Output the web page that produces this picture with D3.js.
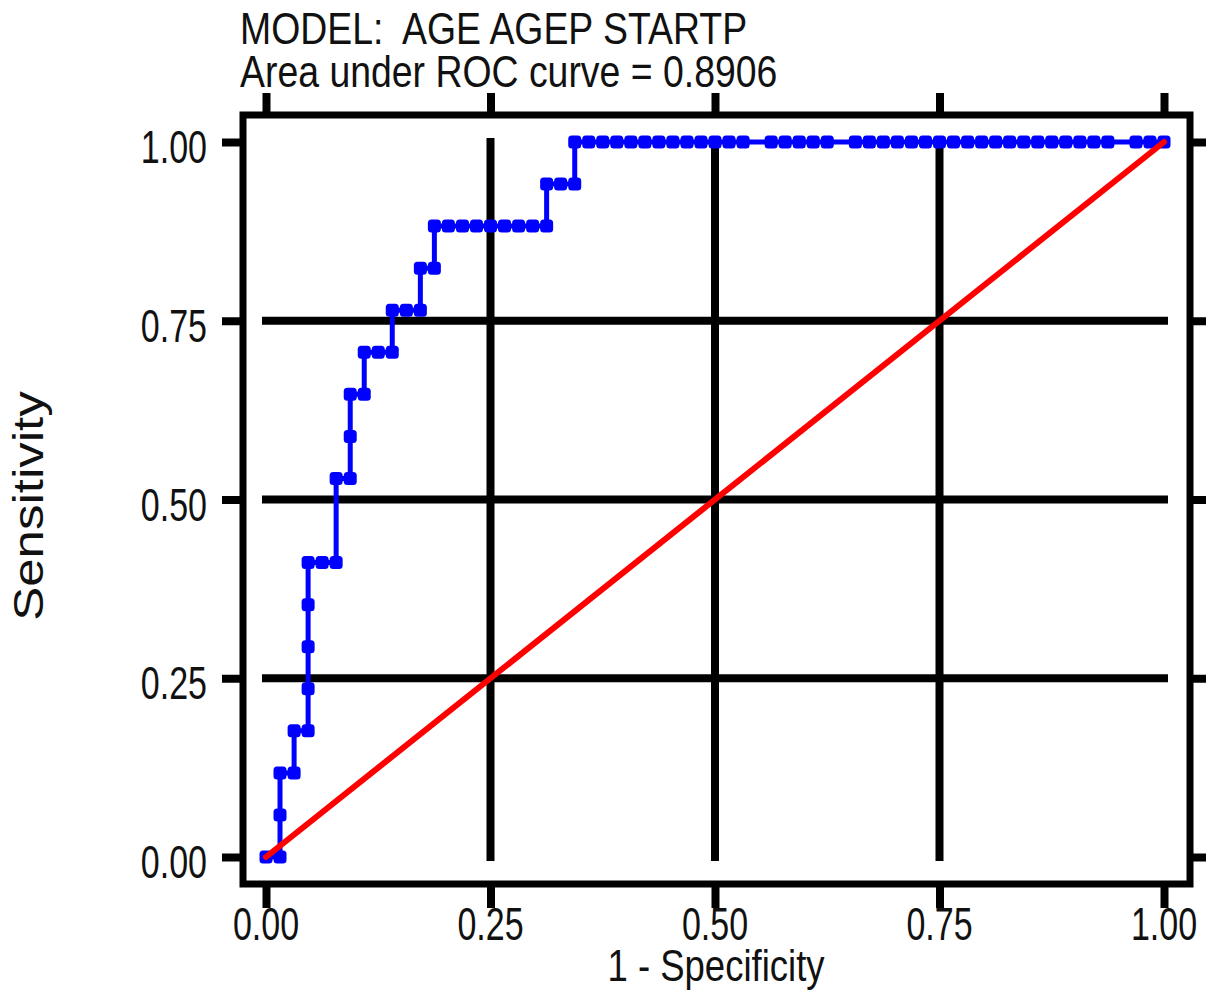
<!DOCTYPE html>
<html>
<head>
<meta charset="utf-8">
<script src="https://cdn.jsdelivr.net/npm/d3@7"></script>
<style>
  html, body { margin: 0; padding: 0; background: #fff; }
  svg { display: block; }
  text { font-family: "Liberation Sans", Arial, Helvetica, sans-serif; fill: #111; white-space: pre; }
</style>
</head>
<body>
<svg id="chart" width="1206" height="993"></svg>
<script>
// ---- Data ----
const titleLines = ["MODEL:  AGE AGEP STARTP", "Area under ROC curve = 0.8906"];
const xTitle = "1 - Specificity";
const yTitle = "Sensitivity";
const tickValues = [0, 0.25, 0.5, 0.75, 1];
const gridValues = [0.25, 0.5, 0.75];

// ROC curve points: 1 - specificity (x) and sensitivity (y)
const oneMinusSpec = [
  0, 0.0156, 0.0156, 0.0156, 0.0313, 0.0313, 0.0469, 0.0469, 0.0469, 0.0469,
  0.0469, 0.0625, 0.0781, 0.0781, 0.0938, 0.0938, 0.0938, 0.1094, 0.1094, 0.1250,
  0.1406, 0.1406, 0.1563, 0.1719, 0.1719, 0.1875, 0.1875, 0.2031, 0.2188, 0.2344,
  0.2500, 0.2656, 0.2813, 0.2969, 0.3125, 0.3125, 0.3281, 0.3438, 0.3438, 0.3594,
  0.3750, 0.3906, 0.4063, 0.4219, 0.4375, 0.4531, 0.4688, 0.4844, 0.5000, 0.5156,
  0.5313, 0.5625, 0.5781, 0.5938, 0.6094, 0.6250, 0.6563, 0.6719, 0.6875, 0.7031,
  0.7188, 0.7344, 0.7500, 0.7656, 0.7813, 0.7969, 0.8125, 0.8281, 0.8438, 0.8594,
  0.8750, 0.8906, 0.9063, 0.9219, 0.9375, 0.9688, 0.9844, 1.0000
];
const sensitivity = [
  0, 0, 0.0588, 0.1176, 0.1176, 0.1765, 0.1765, 0.2353, 0.2941, 0.3529,
  0.4118, 0.4118, 0.4118, 0.5294, 0.5294, 0.5882, 0.6471, 0.6471, 0.7059, 0.7059,
  0.7059, 0.7647, 0.7647, 0.7647, 0.8235, 0.8235, 0.8824, 0.8824, 0.8824, 0.8824,
  0.8824, 0.8824, 0.8824, 0.8824, 0.8824, 0.9412, 0.9412, 0.9412, 1, 1,
  1, 1, 1, 1, 1, 1, 1, 1, 1, 1,
  1, 1, 1, 1, 1, 1, 1, 1, 1, 1,
  1, 1, 1, 1, 1, 1, 1, 1, 1, 1,
  1, 1, 1, 1, 1, 1, 1, 1
];
// Reference (chance) line
const refX = [0, 1];
const refY = [0, 1];

// ---- Drawing ----
const svg = d3.select("#chart");
svg.append("rect").attr("width", 1206).attr("height", 993).attr("fill", "#fff");

const x = d3.scaleLinear().domain([0, 1]).range([266, 1164]);
const y = d3.scaleLinear().domain([0, 1]).range([857, 142]);

const frame = { left: 243, top: 115, right: 1190, bottom: 884 };

// Grid lines
svg.append("g").selectAll("line").data(gridValues).join("line")
  .attr("x1", x(0)).attr("x2", x(1))
  .attr("y1", d => y(d)).attr("y2", d => y(d))
  .attr("stroke", "#000").attr("stroke-width", 8).attr("stroke-linecap", "square");
svg.append("g").selectAll("line").data(gridValues).join("line")
  .attr("y1", y(1)).attr("y2", y(0))
  .attr("x1", d => x(d)).attr("x2", d => x(d))
  .attr("stroke", "#000").attr("stroke-width", 8).attr("stroke-linecap", "square");

// Tick marks on all four sides (axes)
function styleAxis(g) {
  g.select(".domain").remove();
  g.selectAll(".tick line").attr("stroke", "#000").attr("stroke-width", 8);
  g.selectAll(".tick text").remove();
}
svg.append("g").attr("transform", `translate(${frame.left - 3},0)`)
  .call(d3.axisLeft(y).tickValues(tickValues).tickSize(18)).call(styleAxis);
svg.append("g").attr("transform", `translate(${frame.right + 3},0)`)
  .call(d3.axisRight(y).tickValues(tickValues).tickSize(22)).call(styleAxis);
svg.append("g").attr("transform", `translate(0,${frame.top - 3})`)
  .call(d3.axisTop(x).tickValues(tickValues).tickSize(19)).call(styleAxis);
svg.append("g").attr("transform", `translate(0,${frame.bottom + 3})`)
  .call(d3.axisBottom(x).tickValues(tickValues).tickSize(21)).call(styleAxis);

// Frame
svg.append("rect")
  .attr("x", frame.left).attr("y", frame.top)
  .attr("width", frame.right - frame.left).attr("height", frame.bottom - frame.top)
  .attr("fill", "none").attr("stroke", "#000").attr("stroke-width", 7);

// Tick labels
const fmt = d3.format(".2f");
svg.append("g").selectAll("text").data(tickValues).join("text")
  .attr("transform", d => `translate(207,${y(d) + 21}) scale(0.74,1)`)
  .attr("text-anchor", "end").attr("font-size", 46).text(fmt);
svg.append("g").selectAll("text").data(tickValues).join("text")
  .attr("transform", d => `translate(${x(d)},940) scale(0.74,1)`)
  .attr("text-anchor", "middle").attr("font-size", 46).text(fmt);

// ROC curve
const pts = oneMinusSpec.map((v, i) => [v, sensitivity[i]]);
const line = d3.line().x(d => x(d[0])).y(d => y(d[1]));
svg.append("path").datum(pts).attr("d", line)
  .attr("fill", "none").attr("stroke", "#0000ff").attr("stroke-width", 5);
const ms = 13;
svg.append("g").selectAll("rect").data(pts).join("rect")
  .attr("x", d => x(d[0]) - ms / 2).attr("y", d => y(d[1]) - ms / 2)
  .attr("width", ms).attr("height", ms).attr("rx", 3.5)
  .attr("fill", "#0000ff");

// Chance line
svg.append("path").datum(refX.map((v, i) => [v, refY[i]])).attr("d", line)
  .attr("fill", "none").attr("stroke", "#ff0000").attr("stroke-width", 6)
  .attr("stroke-linecap", "round");

// Titles
svg.append("g").selectAll("text").data(titleLines).join("text")
  .attr("transform", (d, i) => `translate(240,${44 + i * 43}) scale(0.85,1)`)
  .attr("font-size", 44).text(d => d);

svg.append("text")
  .attr("transform", "translate(716,981) scale(0.83,1)")
  .attr("text-anchor", "middle").attr("font-size", 44).text(xTitle);

svg.append("text")
  .attr("transform", "translate(43,506) scale(0.83,1) rotate(-90)")
  .attr("text-anchor", "middle").attr("font-size", 51).text(yTitle);
</script>
</body>
</html>
